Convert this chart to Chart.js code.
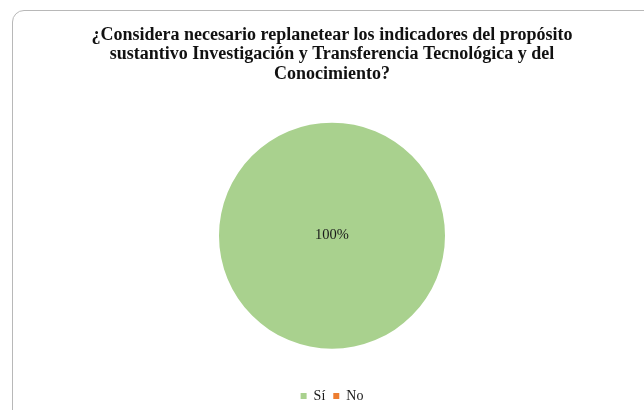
<!DOCTYPE html>
<html lang="es">
<head>
<meta charset="utf-8">
<script src="https://cdn.jsdelivr.net/npm/chart.js@4"></script>
<style>
  html, body { margin: 0; padding: 0; background: #fff; overflow: hidden; }
  .wrap { position: relative; width: 644px; height: 410px; }
  .frame {
    position: absolute; left: 12px; top: 10px; width: 680px; height: 440px;
    border: 1.5px solid #b8b8b8; border-radius: 12px; box-sizing: border-box;
  }
  canvas { position: absolute; left: 0; top: 0; }
</style>
</head>
<body>
<div class="wrap">
  <div class="frame"></div>
  <canvas id="grafico" width="644" height="410"></canvas>
</div>
<script>
const titleLines = [
  "¿Considera necesario replanetear los indicadores del propósito",
  "sustantivo Investigación y Transferencia Tecnológica y del",
  "Conocimiento?",
];
const categories = ["Sí", "No"];
const percentages = [100, 0];
const colors = ["#a9d18e", "#ed7d31"];

const serif = "'Liberation Serif', 'Times New Roman', serif";

// percentage label inside each slice
const sliceLabels = {
  id: "sliceLabels",
  afterDatasetsDraw(chart) {
    const ctx = chart.ctx;
    const meta = chart.getDatasetMeta(0);
    ctx.save();
    ctx.font = "14.5px " + serif;
    ctx.fillStyle = "#1a1a1a";
    ctx.textAlign = "center";
    ctx.textBaseline = "middle";
    meta.data.forEach((arc, i) => {
      const value = percentages[i];
      if (!value) {
        return;
      }
      let pos;
      if (arc.circumference >= Math.PI * 2 - 0.001) {
        pos = { x: arc.x, y: arc.y };
      } else {
        pos = arc.tooltipPosition();
      }
      ctx.fillText(value + "%", pos.x, pos.y - 1);
    });
    ctx.restore();
  },
};

new Chart(document.getElementById("grafico"), {
  type: "pie",
  data: {
    labels: categories,
    datasets: [
      {
        data: percentages,
        backgroundColor: colors,
        borderWidth: 0,
        radius: 113,
      },
    ],
  },
  options: {
    responsive: false,
    animation: false,
    layout: {
      padding: { top: 14, left: 20, right: 0, bottom: -3 },
    },
    plugins: {
      title: {
        display: true,
        text: titleLines,
        color: "#111",
        font: { family: serif, size: 18, weight: "bold", lineHeight: 1.1 },
        padding: { top: 11, bottom: 6 },
      },
      legend: {
        position: "bottom",
        labels: {
          boxWidth: 6,
          boxHeight: 6,
          padding: 8,
          color: "#1a1a1a",
          font: { family: serif, size: 14 },
        },
      },
      tooltip: { enabled: false },
    },
  },
  plugins: [sliceLabels],
});
</script>
</body>
</html>
